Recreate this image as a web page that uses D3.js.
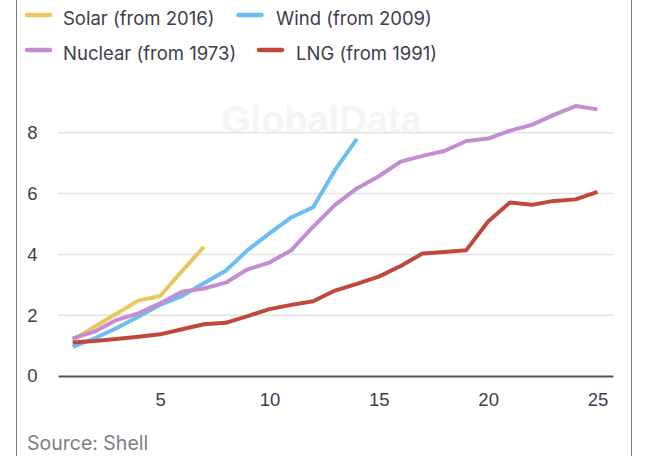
<!DOCTYPE html>
<html>
<head>
<meta charset="utf-8">
<script src="https://cdn.jsdelivr.net/npm/d3@7"></script>
<style>
  html, body { margin: 0; padding: 0; background: #fff; }
  svg { display: block; font-family: Inter, "Liberation Sans", Arial, sans-serif; }
</style>
</head>
<body>
<svg id="chart" width="646" height="456"></svg>
<script>
// Years since start of commercial deployment
const years = d3.range(1, 26);

// Capacity index per technology (first value = year 1)
const solarValues   = [1.18, 1.62, 2.05, 2.48, 2.63, 3.45, 4.25];
const windValues    = [0.96, 1.24, 1.57, 1.95, 2.34, 2.63, 3.05, 3.46, 4.14, 4.69, 5.22, 5.55, 6.78, 7.8];
const nuclearValues = [1.24, 1.46, 1.84, 2.06, 2.39, 2.77, 2.88, 3.07, 3.51, 3.73, 4.14, 4.91, 5.63, 6.17, 6.57,
                       7.05, 7.24, 7.4, 7.73, 7.81, 8.07, 8.26, 8.59, 8.88, 8.77];
const lngValues     = [1.1, 1.15, 1.22, 1.29, 1.37, 1.54, 1.7, 1.75, 1.97, 2.2, 2.34, 2.46, 2.81, 3.03, 3.27,
                       3.62, 4.03, 4.08, 4.14, 5.08, 5.71, 5.63, 5.76, 5.81, 6.06];

const seriesNames  = ["Solar (from 2016)", "Wind (from 2009)", "Nuclear (from 1973)", "LNG (from 1991)"];
const seriesColors = ["#e9c75c", "#6dbdf0", "#c28ed0", "#c2473b"];

const xTicks = [5, 10, 15, 20, 25];
const yTicks = [0, 2, 4, 6, 8];

const series = [
  { name: seriesNames[0], color: seriesColors[0], values: solarValues },
  { name: seriesNames[1], color: seriesColors[1], values: windValues },
  { name: seriesNames[2], color: seriesColors[2], values: nuclearValues },
  { name: seriesNames[3], color: seriesColors[3], values: lngValues }
];

const svg = d3.select("#chart");
const W = 646, H = 456;

const x = d3.scaleLinear().domain([0.33, 25.71]).range([58, 613]);
const y = d3.scaleLinear().domain([0, 8]).range([376, 132.8]);

// card edges
svg.append("line").attr("x1", 16.5).attr("x2", 16.5).attr("y1", 0).attr("y2", H)
  .attr("stroke", "#7a7a7a").attr("stroke-width", 1);
svg.append("line").attr("x1", 631.5).attr("x2", 631.5).attr("y1", 0).attr("y2", H)
  .attr("stroke", "#7a7a7a").attr("stroke-width", 1);

// watermark
svg.append("text")
  .attr("x", 221).attr("y", 133)
  .attr("font-family", "'Liberation Sans', Arial, sans-serif")
  .attr("font-weight", "bold")
  .attr("font-size", 38)
  .attr("fill", "#f5f5f5")
  .text("GlobalData");

// gridlines
const grid = svg.append("g");
grid.selectAll("line").data(yTicks.filter(d => d > 0)).join("line")
  .attr("x1", x.range()[0]).attr("x2", x.range()[1])
  .attr("y1", d => y(d)).attr("y2", d => y(d))
  .attr("stroke", "#e4e4e4").attr("stroke-width", 1.5);

// y axis labels
const yAxis = svg.append("g")
  .attr("transform", "translate(38,0)")
  .call(d3.axisLeft(y).tickValues(yTicks).tickSize(0).tickPadding(0).tickFormat(d3.format("d")));
yAxis.select(".domain").remove();
yAxis.selectAll("text")
  .attr("text-anchor", "middle").attr("x", -5.5)
  .attr("font-size", 18.5).attr("fill", "#3d3d4b").attr("font-family", null);

// x axis
const xAxis = svg.append("g")
  .attr("transform", "translate(0,376)")
  .call(d3.axisBottom(x).tickValues(xTicks).tickSize(0).tickPadding(17).tickFormat(d3.format("d")));
xAxis.select(".domain").attr("stroke", "#555563").attr("stroke-width", 2);
xAxis.selectAll("text").attr("font-size", 18.5).attr("fill", "#3d3d4b").attr("font-family", null);

// lines
const line = d3.line()
  .x((d, i) => x(years[i]))
  .y(d => y(d));

svg.append("g").selectAll("path").data(series).join("path")
  .attr("d", d => line(d.values))
  .attr("fill", "none")
  .attr("stroke", d => d.color)
  .attr("stroke-width", 4)
  .attr("stroke-linejoin", "round");

// legend
const legendPos = [
  { sx: 27, tx: 63, y: 15 },
  { sx: 238.5, tx: 276, y: 15 },
  { sx: 27, tx: 63, y: 50 },
  { sx: 259, tx: 296, y: 50 }
];
const legend = svg.append("g");
series.forEach((s, i) => {
  const p = legendPos[i];
  legend.append("line")
    .attr("x1", p.sx).attr("x2", p.sx + 23).attr("y1", p.y).attr("y2", p.y)
    .attr("stroke", s.color).attr("stroke-width", 4.5).attr("stroke-linecap", "round");
  legend.append("text")
    .attr("x", p.tx).attr("y", p.y + 10)
    .attr("font-size", 18.5).attr("fill", "#3d3d4b")
    .text(s.name);
});

// source note
svg.append("text")
  .attr("x", 27).attr("y", 450)
  .attr("font-size", 19.5).attr("fill", "#7d7d85")
  .text("Source: Shell");
</script>
</body>
</html>
